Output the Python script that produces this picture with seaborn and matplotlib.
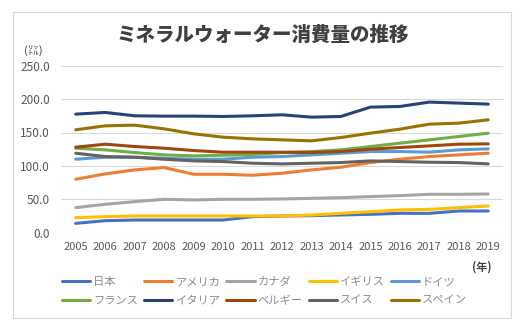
import matplotlib
matplotlib.use("Agg")
import matplotlib.pyplot as plt
from matplotlib.patches import Rectangle
import seaborn as sns
import pandas as pd

years = list(range(2005, 2020))

countries = ["日本", "アメリカ", "カナダ", "イギリス", "ドイツ",
             "フランス", "イタリア", "ベルギー", "スイス", "スペイン"]

japan       = [14, 18, 19, 19, 19, 19, 24, 25, 25.5, 26.5, 27.5, 29, 29, 32.5, 32.5]
usa         = [80, 88, 94, 97.5, 87.5, 87.5, 86, 89, 94, 98, 105, 110, 114, 116.5, 119]
canada      = [37.5, 42.5, 46.5, 50, 49, 50, 50, 50.5, 51.5, 52.5, 54, 55.5, 57.5, 57.5, 58]
uk          = [22.5, 24, 25, 25, 25, 25, 25, 25, 26.5, 29, 31.5, 34, 35, 37.5, 40]
germany     = [110, 113, 113, 111.5, 110, 110, 113, 114, 116.5, 119, 121.5, 121.5, 120.5, 124, 125.5]
france      = [126.5, 124, 120, 116.5, 115, 116, 117, 120, 121.5, 124, 129, 134, 139, 144, 149]
italy       = [177.5, 180, 175, 174.5, 174.5, 174, 175, 176.5, 173, 174, 188, 189, 195.5, 194, 192.5]
belgium     = [128, 132.5, 129, 126.5, 123, 120.5, 120.5, 120.5, 120, 121.5, 125, 127.5, 130, 132.5, 133]
switzerland = [119, 114, 113, 110, 107.5, 106.5, 104, 103, 104, 105, 107.5, 106.5, 105.5, 105, 103]
spain       = [154, 160, 161, 155.5, 148, 143, 140.5, 139, 137.5, 142.5, 149, 155, 162.5, 164, 169]

series = [japan, usa, canada, uk, germany, france, italy, belgium, switzerland, spain]

colors = ["#4472C4", "#ED7D31", "#A5A5A5", "#FFC000", "#5B9BD5",
          "#70AD47", "#264478", "#9E480E", "#636363", "#997300"]

yticks = [0, 50, 100, 150, 200, 250]

rows = []
for name, vals in zip(countries, series):
    for yr, v in zip(years, vals):
        rows.append({"year": yr, "country": name, "value": v})
df = pd.DataFrame(rows)

sns.set_theme(style="white")
plt.rcParams["font.family"] = ["Noto Sans CJK JP", "DejaVu Sans"]

fig = plt.figure(figsize=(5.30, 3.29), dpi=100)
fig.patch.set_facecolor("white")

# outer chart frame
fig.add_artist(Rectangle((13 / 530, 1 - 318 / 329), 498 / 530, 306 / 329,
                         transform=fig.transFigure, fill=False,
                         edgecolor="#D9D9D9", linewidth=0.8))

ax = fig.add_axes([61 / 530, 1 - 232.7 / 329, 442 / 530, 167 / 329])

sns.lineplot(data=df, x="year", y="value", hue="country",
             hue_order=countries, palette=colors, linewidth=2.2,
             sort=False, ax=ax, legend=True)

ax.set_xlim(2004.5, 2019.5)
ax.set_ylim(0, 250)
ax.set_yticks(yticks)
ax.set_yticklabels([f"{t:.1f}" for t in yticks])
ax.set_xticks(years)
ax.set_xticklabels([str(y) for y in years])
ax.yaxis.grid(True, color="#D9D9D9", linewidth=0.8)
ax.xaxis.grid(False)
for s in ax.spines.values():
    s.set_visible(False)
ax.tick_params(axis="both", length=0, colors="#595959", labelsize=8)
ax.tick_params(axis="y", pad=8, labelsize=8.5)
ax.tick_params(axis="x", pad=7)
ax.set_xlabel("")
ax.set_ylabel("")

# legend laid out row by row in two rows of five
handles, labels = ax.get_legend_handles_labels()
order = [0, 5, 1, 6, 2, 7, 3, 8, 4, 9]
ax.legend([handles[i] for i in order], [labels[i] for i in order],
          ncol=5, loc="upper left", bbox_to_anchor=(52 / 530, 1 - 267 / 329),
          bbox_transform=fig.transFigure, frameon=False,
          fontsize=8.1, handlelength=2.5, handletextpad=0.25,
          columnspacing=0.55, labelspacing=0.75, labelcolor="#8C8C8C")

fig.text(263 / 530, 1 - 35 / 329, "ミネラルウォーター消費量の推移",
         ha="center", va="center", fontsize=14, fontweight="heavy",
         color="#404040")
fig.text(33 / 530, 1 - 50 / 329, "(㍑)", ha="center", va="center",
         fontsize=8, color="#404040")
fig.text(482 / 530, 1 - 267 / 329, "(年)", ha="center", va="center",
         fontsize=8, fontweight="bold", color="#404040")

fig.savefig("out.png", dpi=100, facecolor="white")
